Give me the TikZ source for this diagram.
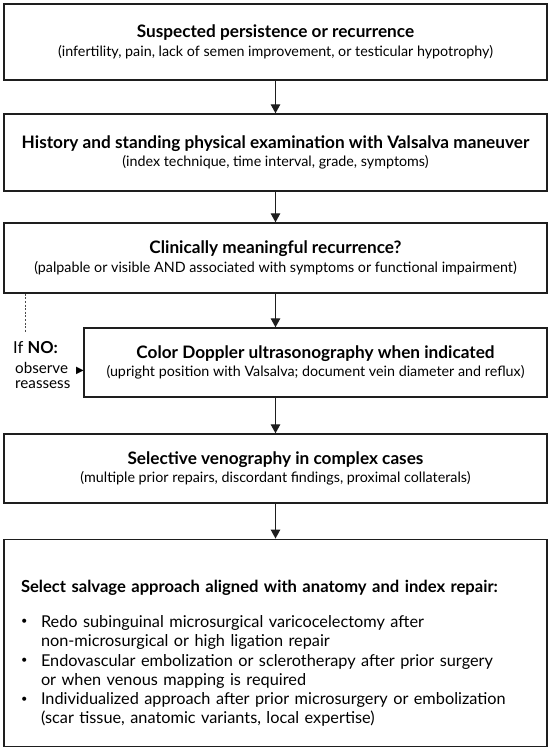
\documentclass[tikz,border=0pt]{standalone}
\usepackage{fontspec}
\setmainfont{Lato}
\newfontfamily\symfont{DejaVu Sans}
\usetikzlibrary{positioning,calc}
\usetikzlibrary{arrows.meta}
\definecolor{LineGray}{RGB}{30,30,30}
\tikzset{
  box/.style={draw=LineGray,line width=1.4pt,minimum width=543pt,align=center,inner sep=4pt,
    font=\fontsize{14.3}{18.5}\selectfont},
  flow/.style={draw=LineGray,line width=1.3pt,-{Triangle[length=9pt,width=9.5pt]}},
  dashline/.style={draw=LineGray!80,line width=1pt,dash pattern=on 2pt off 1.6pt},
  side/.style={align=left,inner sep=0pt,font=\fontsize{15.2}{15.8}\selectfont},
}
\newcommand{\ttl}[1]{{\fontsize{17.2}{18.5}\selectfont\bfseries #1}}
\newcommand{\dotitem}{\raisebox{2.5pt}{\fontsize{11}{12}\selectfont\textbullet}}

\begin{document}
\begin{tikzpicture}[x=1pt,y=-1pt]
\useasboundingbox (0,0) rectangle (550,749);
\node[box,minimum height=76pt] (b1) at (275.5,42)
  {\ttl{Suspected persistence or recurrence}\\
   (infertility, pain, lack of semen improvement, or testicular hypotrophy)};
\node[box,minimum height=77pt] (b2) at (275.5,152.5)
  {\ttl{History and standing physical examination with Valsalva maneuver}\\
   (index technique, time interval, grade, symptoms)};
\node[box,minimum height=70pt] (b3) at (275.5,258)
  {\ttl{Clinically meaningful recurrence?}\\
   (palpable or visible AND associated with symptoms or functional impairment)};
\node[box,minimum width=463pt,minimum height=69pt] (b4) at (315.5,362.5)
  {\ttl{Color Doppler ultrasonography when indicated}\\
   (upright position with Valsalva; document vein diameter and reflux)};
\node[box,minimum height=69pt] (b5) at (275.5,468.5)
  {\ttl{Selective venography in complex cases}\\
   (multiple prior repairs, discordant findings, proximal collaterals)};
\node[box,minimum height=200pt,align=left,text width=509pt,inner sep=17pt,
  font=\fontsize{16.3}{19.3}\selectfont] (b6) at (275.5,643)
  {\rule{0pt}{36pt}{\fontsize{16.6}{19.3}\selectfont\bfseries Select salvage approach aligned with anatomy and index repair:}\\[17.7pt]
   \begin{tabular}{@{}p{20pt}@{}l@{}}
   \dotitem & Redo subinguinal microsurgical varicocelectomy after\\
            & non-microsurgical or high ligation repair\\
   \dotitem & Endovascular embolization or sclerotherapy after prior surgery\\
            & or when venous mapping is required\\
   \dotitem & Individualized approach after prior microsurgery or embolization\\
            & (scar tissue, anatomic variants, local expertise)
   \end{tabular}};
% side note for a negative answer
\node[side,anchor=north west] (ifno) at (13,341)
  {{\fontsize{16.5}{18}\selectfont If \textbf{NO:}}\\[4pt]
   \hspace*{2pt}observe\hspace{8pt}{\symfont\fontsize{10}{12}\selectfont ▶}\\
   \hspace*{2pt}reassess};
\coordinate (nofoot) at (25,333);
\draw[dashline] (nofoot |- b3.south) -- (nofoot);
\draw[flow] (b1) -- (b2);
\draw[flow] (b2) -- (b3);
\draw[flow] (b3.south) -- (b3.south |- b4.north);
\draw[flow] (b4.south -| b5.north) -- (b5.north);
\draw[flow] (b5) -- (b6);
\end{tikzpicture}
\end{document}
